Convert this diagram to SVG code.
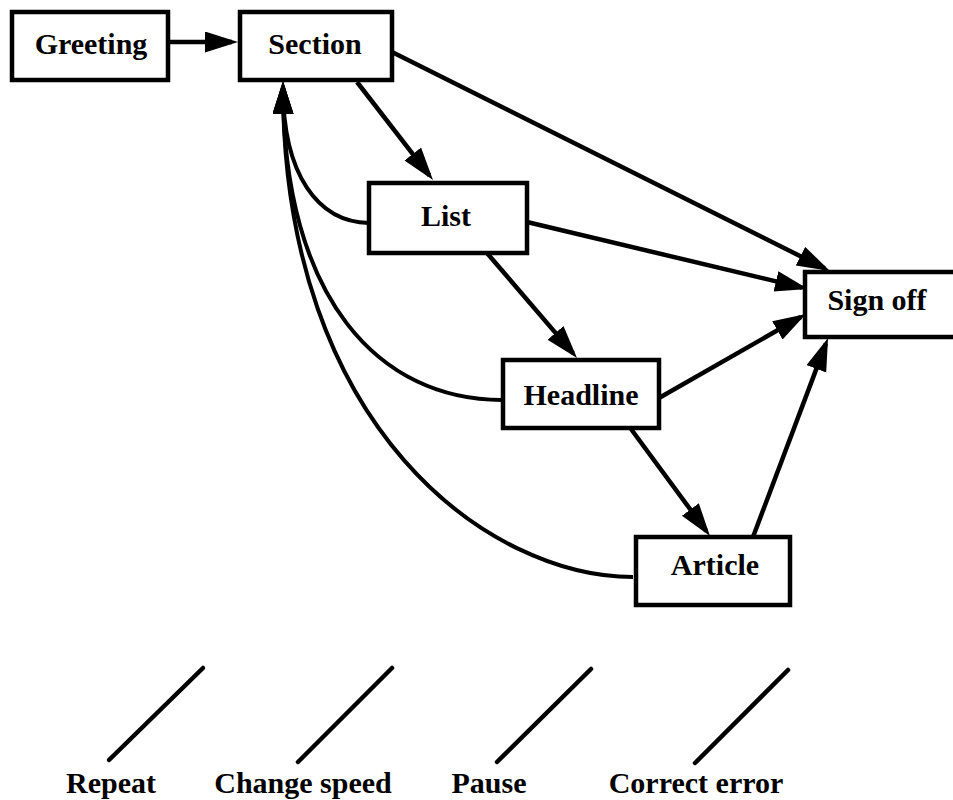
<svg xmlns="http://www.w3.org/2000/svg" width="953" height="800" viewBox="0 0 953 800">
<style>
.box{fill:#fff;stroke:#000;stroke-width:4.5}
.lbl{font-family:"Liberation Serif","Times New Roman",serif;font-weight:bold;font-size:30px;fill:#000;text-anchor:middle}
.edge{fill:none;stroke:#000;stroke-width:4.5}
.curve{fill:none;stroke:#000;stroke-width:4}
.tick{fill:none;stroke:#000;stroke-width:4.5;stroke-linecap:round}
</style>
<defs>
<marker id="arr" markerUnits="userSpaceOnUse" markerWidth="34" markerHeight="22" refX="27" refY="10.5" orient="auto">
<path d="M0,0 L33,10.5 L0,21 z" fill="#000"/>
</marker>
</defs>
<rect width="953" height="800" fill="#fff"/>
<g id="connectors">
<path class="edge" d="M170,42 L232,42" marker-end="url(#arr)"/>
<path class="edge" d="M357,82 L429.3,175.3" marker-end="url(#arr)"/>
<path class="edge" d="M392,52 L824.6,268.3" marker-end="url(#arr)"/>
<path class="edge" d="M527,222 L802.2,287.6" marker-end="url(#arr)"/>
<path class="edge" d="M487,253 L573.1,353.4" marker-end="url(#arr)"/>
<path class="edge" d="M659,398 L800.8,317" marker-end="url(#arr)"/>
<path class="edge" d="M631,429 L706.4,531.2" marker-end="url(#arr)"/>
<path class="edge" d="M753,537 L825.9,343.6" marker-end="url(#arr)"/>
<path class="curve" d="M369,223 C318,222 283,175 283,87" marker-end="url(#arr)"/>
<path class="curve" d="M502,400 C380,400 283,300 283,87" marker-end="url(#arr)"/>
<path class="curve" d="M633,577 C490,577 283,430 283,87" marker-end="url(#arr)"/>
</g>
<g id="greeting"><rect class="box" x="12" y="12" width="156" height="68"/><text class="lbl" x="91" y="54">Greeting</text></g>
<g id="section"><rect class="box" x="240" y="12" width="152" height="68"/><text class="lbl" x="315" y="54">Section</text></g>
<g id="list"><rect class="box" x="369" y="183" width="158" height="70"/><text class="lbl" x="446" y="226">List</text></g>
<g id="headline"><rect class="box" x="503" y="360" width="156" height="68"/><text class="lbl" x="581" y="405">Headline</text></g>
<g id="article"><rect class="box" x="636" y="537" width="154" height="68"/><text class="lbl" x="715" y="575">Article</text></g>
<g id="signoff"><rect class="box" x="805" y="272" width="160" height="65"/><text class="lbl" x="877" y="310">Sign off</text></g>
<g id="legend">
<path class="tick" d="M109,760 L203,668"/>
<path class="tick" d="M298,762 L392,668"/>
<path class="tick" d="M497,762 L591,669"/>
<path class="tick" d="M695,763 L788,670"/>
<text class="lbl" x="111" y="793">Repeat</text>
<text class="lbl" x="303" y="793">Change speed</text>
<text class="lbl" x="489" y="793">Pause</text>
<text class="lbl" x="696" y="793">Correct error</text>
</g>
</svg>
